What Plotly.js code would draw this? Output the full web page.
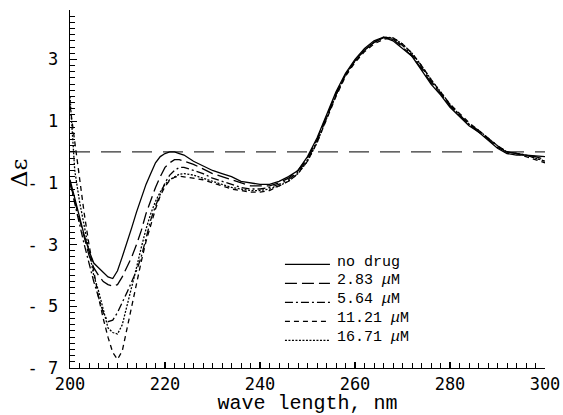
<!DOCTYPE html>
<html>
<head>
<meta charset="utf-8">
<script src="https://cdn.plot.ly/plotly-3.0.1.min.js"></script>
<style>html,body{margin:0;padding:0;background:#fff;}#chart{width:563px;height:415px;}</style>
</head>
<body>
<div id="chart"></div>
<script>
// wavelength (nm)
var wl = [200,201,202,203,204,205,206,207,208,209,210,211,212,213,214,215,216,217,218,219,220,221,222,223,224,226,228,230,232,234,236,238,240,242,244,246,248,250,252,254,256,258,260,262,264,266,268,270,272,274,276,278,280,282,284,286,288,290,292,294,296,298,300];

var noDrug = [-0.9,-1.5,-2.1,-2.7,-3.2,-3.6,-3.75,-3.9,-4.05,-4.1,-3.85,-3.4,-2.95,-2.45,-1.95,-1.5,-1.05,-0.7,-0.35,-0.15,-0.05,0.0,0.0,-0.05,-0.1,-0.3,-0.45,-0.6,-0.7,-0.8,-0.95,-1.0,-1.05,-1.05,-0.95,-0.8,-0.6,-0.15,0.45,1.2,1.95,2.55,3.0,3.35,3.6,3.72,3.6,3.35,3.1,2.65,2.2,1.85,1.45,1.15,0.85,0.65,0.4,0.12,-0.05,-0.1,-0.1,-0.12,-0.15];

var c283 = [-1.0,-1.6,-2.2,-2.8,-3.35,-3.75,-4.0,-4.2,-4.3,-4.35,-4.3,-4.05,-3.75,-3.4,-3.0,-2.55,-2.0,-1.55,-1.15,-0.8,-0.5,-0.35,-0.25,-0.25,-0.3,-0.4,-0.55,-0.7,-0.8,-0.9,-1.0,-1.1,-1.1,-1.1,-1.0,-0.85,-0.6,-0.2,0.4,1.15,1.9,2.5,2.95,3.3,3.55,3.7,3.65,3.4,3.1,2.7,2.25,1.9,1.5,1.2,0.9,0.65,0.42,0.15,0.0,-0.05,-0.1,-0.15,-0.25];

var c564 = [-1.0,-1.7,-2.4,-3.0,-3.6,-4.2,-4.7,-5.2,-5.5,-5.45,-5.2,-4.9,-4.55,-4.2,-3.85,-3.4,-2.8,-2.2,-1.75,-1.35,-1.0,-0.75,-0.6,-0.5,-0.5,-0.6,-0.7,-0.85,-0.95,-1.05,-1.15,-1.2,-1.2,-1.15,-1.05,-0.9,-0.65,-0.25,0.35,1.1,1.85,2.5,2.95,3.3,3.55,3.72,3.68,3.45,3.15,2.75,2.3,1.9,1.5,1.2,0.9,0.7,0.45,0.2,0.0,-0.05,-0.1,-0.2,-0.3];

var c1121 = [1.5,0.3,-0.9,-2.0,-3.0,-3.9,-4.7,-5.4,-6.0,-6.5,-6.72,-6.45,-5.7,-4.95,-4.25,-3.55,-2.9,-2.35,-1.85,-1.42,-1.12,-0.92,-0.82,-0.78,-0.8,-0.85,-0.9,-1.0,-1.1,-1.2,-1.25,-1.3,-1.3,-1.25,-1.1,-0.95,-0.7,-0.3,0.3,1.05,1.8,2.45,2.9,3.25,3.5,3.65,3.7,3.5,3.2,2.8,2.35,1.95,1.55,1.25,0.95,0.7,0.45,0.2,0.0,-0.05,-0.15,-0.25,-0.35];

var c1671 = [1.8,-0.6,-1.6,-2.4,-3.3,-4.0,-4.5,-5.1,-5.7,-5.85,-5.9,-5.6,-5.0,-4.4,-3.75,-3.1,-2.5,-2.0,-1.6,-1.3,-1.05,-0.9,-0.8,-0.72,-0.7,-0.75,-0.85,-0.95,-1.05,-1.15,-1.2,-1.25,-1.25,-1.2,-1.1,-0.95,-0.7,-0.3,0.3,1.05,1.85,2.5,2.95,3.3,3.55,3.72,3.7,3.5,3.2,2.8,2.35,1.95,1.55,1.2,0.9,0.7,0.45,0.2,0.0,-0.05,-0.1,-0.2,-0.3];

var zeroX = [200, 300];
var zeroY = [0, 0];

var seriesNames = ["no drug", "2.83 <i>μ</i>M", "5.64 <i>μ</i>M", "11.21 <i>μ</i>M", "16.71 <i>μ</i>M"];
var seriesData = [noDrug, c283, c564, c1121, c1671];
var seriesDash = ["solid", "12px,5px", "8px,3px,2px,3px", "5px,4px", "2px,1.5px"];

var yTickVals = [-7, -5, -3, -1, 1, 3];
var yTickText = ["- 7", "- 5", "- 3", "- 1", "1", "3"];
var xTickVals = [200, 220, 240, 260, 280, 300];
var xTickText = ["200", "220", "240", "260", "280", "300"];

var traces = [{
  x: zeroX, y: zeroY, mode: "lines", showlegend: false, hoverinfo: "skip",
  line: {color: "#333", width: 1.2, dash: "20px,11px"}
}];
for (var i = 0; i < seriesData.length; i++) {
  // legend shows only the line sample; its label is drawn as an annotation
  traces.push({
    x: wl, y: seriesData[i], mode: "lines", name: "", showlegend: true,
    hovertext: seriesNames[i],
    line: {color: "#000", width: 1.3, dash: seriesDash[i]}
  });
}

var legFont = {family: "Liberation Mono", size: 15, color: "#000"};
var annotations = [];
var rowTop = 262, rowGap = 18.8;
for (var k = 0; k < seriesNames.length; k++) {
  annotations.push({
    xref: "paper", yref: "paper", x: (335 - 70) / 475, y: (368 - (rowTop + k * rowGap)) / 358,
    xanchor: "left", yanchor: "middle", showarrow: false,
    text: seriesNames[k], font: legFont
  });
}
annotations.push({
  xref: "paper", yref: "paper", x: -0.107, y: (368 - 173) / 358,
  xanchor: "center", yanchor: "middle", showarrow: false, textangle: -90,
  text: "Δε", font: {family: "DejaVu Serif", size: 23, color: "#000"}
});

var tickFont = {family: "DejaVu Sans Mono", size: 17, color: "#000"};
var layout = {
  width: 563, height: 415,
  margin: {l: 70, r: 18, t: 10, b: 47},
  paper_bgcolor: "#fff", plot_bgcolor: "#fff",
  showlegend: true,
  legend: {
    x: 0.442, y: 0.33, xanchor: "left", yanchor: "top",
    bgcolor: "rgba(0,0,0,0)", borderwidth: 0,
    font: {family: "Liberation Mono", size: 12, color: "#000"},
    itemwidth: 45, tracegroupgap: 0
  },
  annotations: annotations,
  xaxis: {
    range: [200, 300], showgrid: false, zeroline: false,
    showline: true, linecolor: "#000", linewidth: 1.3,
    ticks: "inside", ticklen: 6, tickwidth: 1.2, tickcolor: "#000",
    tickvals: xTickVals, ticktext: xTickText, tickfont: tickFont,
    minor: {dtick: 2, ticks: "inside", ticklen: 5, tickwidth: 1, tickcolor: "#000"},
    title: {text: "wave length, nm", font: {family: "Liberation Mono", size: 20, color: "#000"}, standoff: 2}
  },
  yaxis: {
    range: [-7, 4.6], showgrid: false, zeroline: false,
    showline: true, linecolor: "#000", linewidth: 1.3,
    ticks: "inside", ticklen: 7, tickwidth: 1.2, tickcolor: "#000",
    tickvals: yTickVals, ticktext: yTickText, tickfont: tickFont,
    ticklabelstandoff: 7,
    minor: {dtick: 0.2, tick0: -7, ticks: "inside", ticklen: 5, tickwidth: 1, tickcolor: "#000"}
  }
};

Plotly.newPlot("chart", traces, layout, {staticPlot: true, displayModeBar: false});
</script>
</body>
</html>
